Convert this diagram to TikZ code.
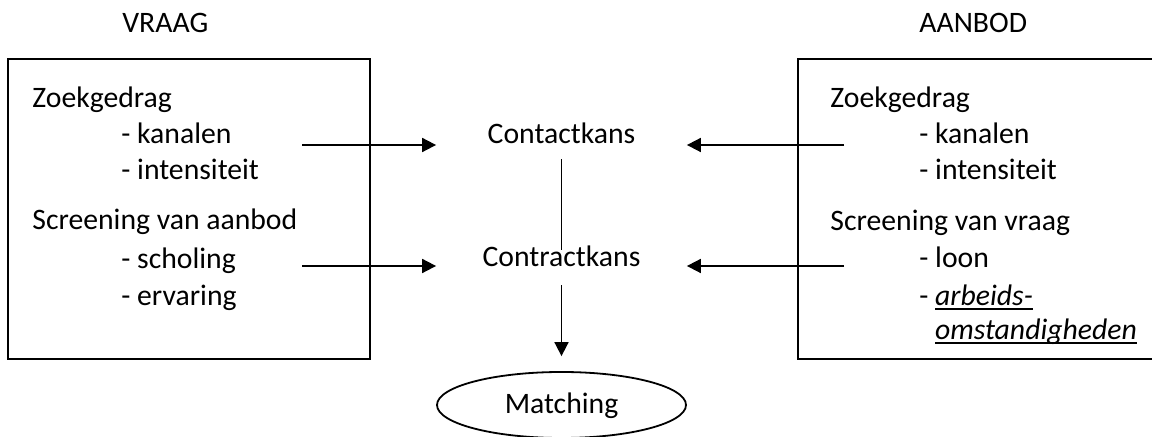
\documentclass[tikz,border=0pt]{standalone}
\usepackage{fontspec}
\setmainfont{Carlito}
\usetikzlibrary{arrows.meta,shapes.geometric}
\newcommand{\myul}[1]{\setbox0=\hbox{#1}\rlap{\rule[-2pt]{\wd0}{0.9pt}}\box0}
\begin{document}
\begin{tikzpicture}[x=0.5pt,y=-0.5pt,
  fnt/.style={font=\fontsize{14.85pt}{18pt}\selectfont},
  txt/.style={fnt,anchor=base west,inner sep=0pt},
  box/.style={draw,line width=1.1pt,rectangle,inner sep=0pt,minimum width=181pt,minimum height=150pt},
  conn/.style={line width=0.9pt},
  arr/.style={conn,-{Triangle[length=7pt,width=7pt]}},
  mid/.style={fnt,anchor=base,inner sep=0pt,minimum width=125pt}]
\useasboundingbox (0,0) rectangle (1152,437);

% headings
\node[txt] (vraag) at (122,33) {VRAAG};
\node[txt] (aanbod) at (919,33) {AANBOD};

% boxes
\node[box] (vbox) at (189,209) {};
\node[box] (abox) at (979,209) {};

% left box text
\node[txt] (vz) at (32,108) {Zoekgedrag};
\node[txt] (vk) at (121,144) {- kanalen};
\node[txt] (vi) at (121,180) {- intensiteit};
\node[txt] (vs) at (32,230) {Screening van aanbod};
\node[txt] (vsc) at (121,269) {- scholing};
\node[txt] (ve) at (121,306) {- ervaring};

% right box text
\node[txt] (az) at (830,108) {Zoekgedrag};
\node[txt] (ak) at (919,144) {- kanalen};
\node[txt] (ai) at (919,180) {- intensiteit};
\node[txt] (as) at (830,231) {Screening van vraag};
\node[txt] (al) at (919,268) {- loon};
\node[txt] (aa) at (919,306) {- \myul{\itshape arbeids-}};
\node[txt] (ao) at (919,340) {\phantom{- }\myul{\itshape omstandigheden}};

% centre column
\node[mid,text depth=7.5pt] (ck) at (561.5,144) {Contactkans};
\node[mid,text height=8.5pt,text depth=9pt] (ctk) at (561.5,267) {Contractkans};
\node[draw,ellipse,line width=0.9pt,minimum width=124.5pt,minimum height=33pt,
      inner sep=0pt,text height=10pt,text depth=1pt,fnt] (match) at (561.5,405) {Matching};

% connector start points
\coordinate (lz) at (302,145);
\coordinate (ls) at (302,266);
\coordinate (rz) at (844,145);
\coordinate (rs) at (844,266);

\draw[arr] (lz) -- (lz -| ck.west);
\draw[arr] (ls) -- (ls -| ctk.west);
\draw[arr] (rz) -- (rz -| ck.east);
\draw[arr] (rs) -- (rs -| ctk.east);
\draw[conn] (ck.south) -- (ctk.north);
\draw[arr,shorten >=7.5pt] (ctk.south) -- (match.north);
\end{tikzpicture}
\end{document}
